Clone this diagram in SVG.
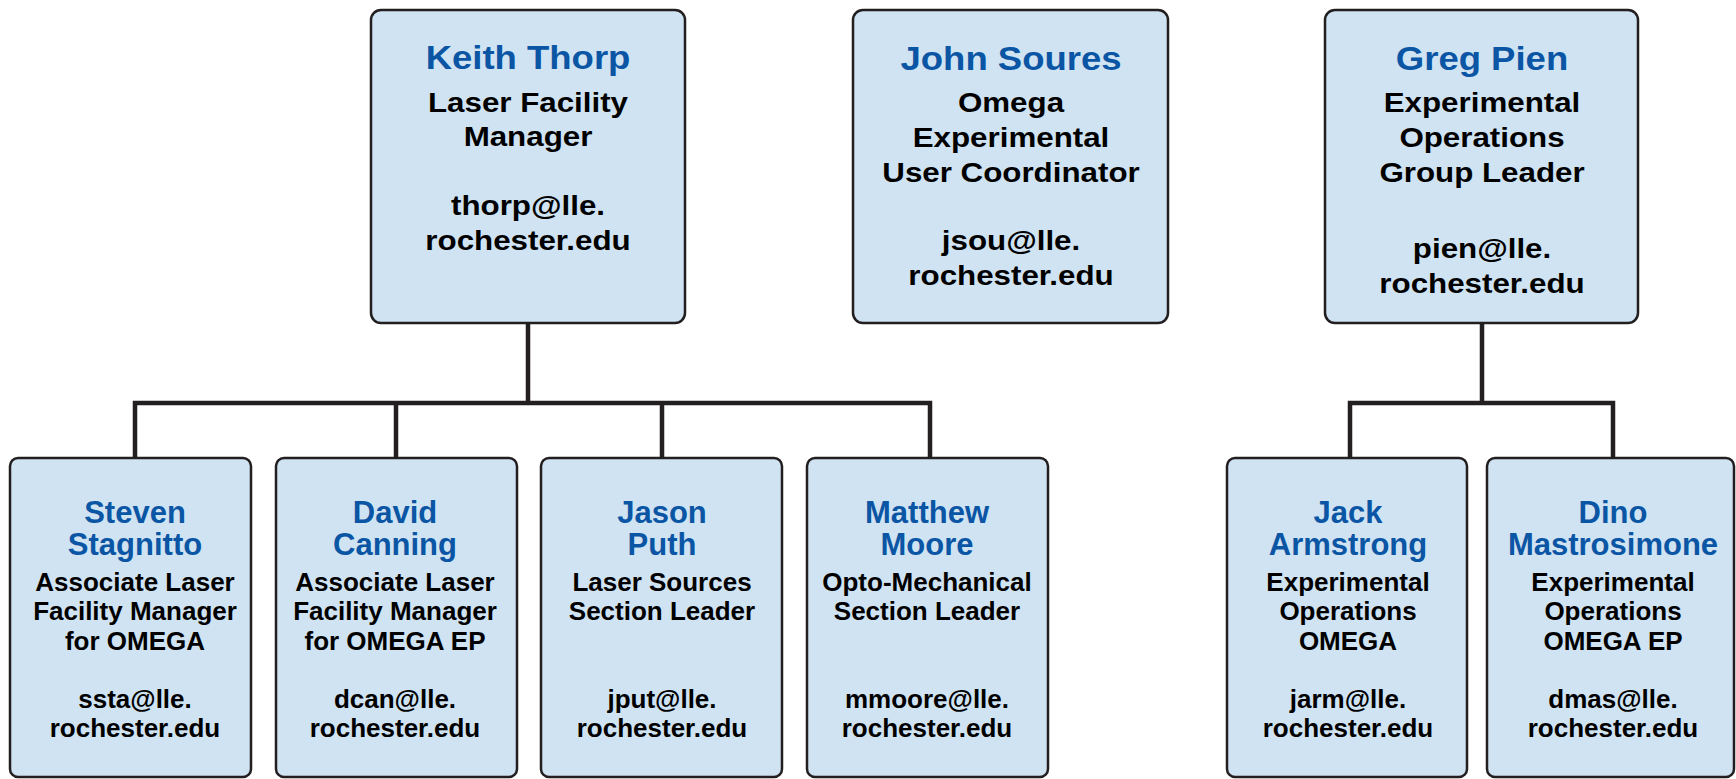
<svg xmlns="http://www.w3.org/2000/svg" width="1736" height="779" viewBox="0 0 1736 779">
<style>
.box{fill:#cfe3f2;stroke:#231f20;stroke-width:2.5}
.con{fill:none;stroke:#231f20;stroke-width:4.5;stroke-linejoin:miter}
text{font-family:"Liberation Sans",Arial,Helvetica,sans-serif;font-weight:bold;text-anchor:middle}
.tn{font-size:33.5px;fill:#0b55a5}
.tb{font-size:27px;fill:#000}
.bn{font-size:31px;fill:#0b55a5}
.bb{font-size:26px;fill:#000}
</style>
<rect width="1736" height="779" fill="#ffffff"/>
<g id="connectors">
<path class="con" d="M528 323 V403 M135 458 V403 H930 V458 M396 403 V458 M662 403 V458"/>
<path class="con" d="M1482 323 V403 M1350 458 V403 H1613 V458"/>
</g>
<g id="keith">
<rect class="box" x="371" y="10" width="314" height="313" rx="10"/>
<text class="tn" transform="translate(528 69) scale(1.09 1)">Keith Thorp</text>
<text class="tb" transform="translate(528 112) scale(1.16 1)">Laser Facility</text>
<text class="tb" transform="translate(528 146) scale(1.16 1)">Manager</text>
<text class="tb" transform="translate(528 215) scale(1.16 1)">thorp@lle.</text>
<text class="tb" transform="translate(528 250) scale(1.16 1)">rochester.edu</text>
</g>
<g id="john">
<rect class="box" x="853" y="10" width="315" height="313" rx="10"/>
<text class="tn" transform="translate(1011 70) scale(1.09 1)">John Soures</text>
<text class="tb" transform="translate(1011 112) scale(1.16 1)">Omega</text>
<text class="tb" transform="translate(1011 147) scale(1.16 1)">Experimental</text>
<text class="tb" transform="translate(1011 182) scale(1.16 1)">User Coordinator</text>
<text class="tb" transform="translate(1011 250) scale(1.16 1)">jsou@lle.</text>
<text class="tb" transform="translate(1011 285) scale(1.16 1)">rochester.edu</text>
</g>
<g id="greg">
<rect class="box" x="1325" y="10" width="313" height="313" rx="10"/>
<text class="tn" transform="translate(1482 70) scale(1.09 1)">Greg Pien</text>
<text class="tb" transform="translate(1482 112) scale(1.16 1)">Experimental</text>
<text class="tb" transform="translate(1482 147) scale(1.16 1)">Operations</text>
<text class="tb" transform="translate(1482 182) scale(1.16 1)">Group Leader</text>
<text class="tb" transform="translate(1482 258) scale(1.16 1)">pien@lle.</text>
<text class="tb" transform="translate(1482 293) scale(1.16 1)">rochester.edu</text>
</g>
<g id="steven">
<rect class="box" x="10" y="458" width="241" height="319" rx="8"/>
<text class="bn" x="135" y="523">Steven</text>
<text class="bn" x="135" y="555">Stagnitto</text>
<text class="bb" x="135" y="591">Associate Laser</text>
<text class="bb" x="135" y="620">Facility Manager</text>
<text class="bb" x="135" y="650">for OMEGA</text>
<text class="bb" x="135" y="708">ssta@lle.</text>
<text class="bb" x="135" y="737">rochester.edu</text>
</g>
<g id="david">
<rect class="box" x="276" y="458" width="241" height="319" rx="8"/>
<text class="bn" x="395" y="523">David</text>
<text class="bn" x="395" y="555">Canning</text>
<text class="bb" x="395" y="591">Associate Laser</text>
<text class="bb" x="395" y="620">Facility Manager</text>
<text class="bb" x="395" y="650">for OMEGA EP</text>
<text class="bb" x="395" y="708">dcan@lle.</text>
<text class="bb" x="395" y="737">rochester.edu</text>
</g>
<g id="jason">
<rect class="box" x="541" y="458" width="241" height="319" rx="8"/>
<text class="bn" x="662" y="523">Jason</text>
<text class="bn" x="662" y="555">Puth</text>
<text class="bb" x="662" y="591">Laser Sources</text>
<text class="bb" x="662" y="620">Section Leader</text>
<text class="bb" x="662" y="708">jput@lle.</text>
<text class="bb" x="662" y="737">rochester.edu</text>
</g>
<g id="matthew">
<rect class="box" x="807" y="458" width="241" height="319" rx="8"/>
<text class="bn" x="927" y="523">Matthew</text>
<text class="bn" x="927" y="555">Moore</text>
<text class="bb" x="927" y="591">Opto-Mechanical</text>
<text class="bb" x="927" y="620">Section Leader</text>
<text class="bb" x="927" y="708">mmoore@lle.</text>
<text class="bb" x="927" y="737">rochester.edu</text>
</g>
<g id="jack">
<rect class="box" x="1227" y="458" width="240" height="319" rx="8"/>
<text class="bn" x="1348" y="523">Jack</text>
<text class="bn" x="1348" y="555">Armstrong</text>
<text class="bb" x="1348" y="591">Experimental</text>
<text class="bb" x="1348" y="620">Operations</text>
<text class="bb" x="1348" y="650">OMEGA</text>
<text class="bb" x="1348" y="708">jarm@lle.</text>
<text class="bb" x="1348" y="737">rochester.edu</text>
</g>
<g id="dino">
<rect class="box" x="1487" y="458" width="247" height="319" rx="8"/>
<text class="bn" x="1613" y="523">Dino</text>
<text class="bn" x="1613" y="555">Mastrosimone</text>
<text class="bb" x="1613" y="591">Experimental</text>
<text class="bb" x="1613" y="620">Operations</text>
<text class="bb" x="1613" y="650">OMEGA EP</text>
<text class="bb" x="1613" y="708">dmas@lle.</text>
<text class="bb" x="1613" y="737">rochester.edu</text>
</g>
</svg>
